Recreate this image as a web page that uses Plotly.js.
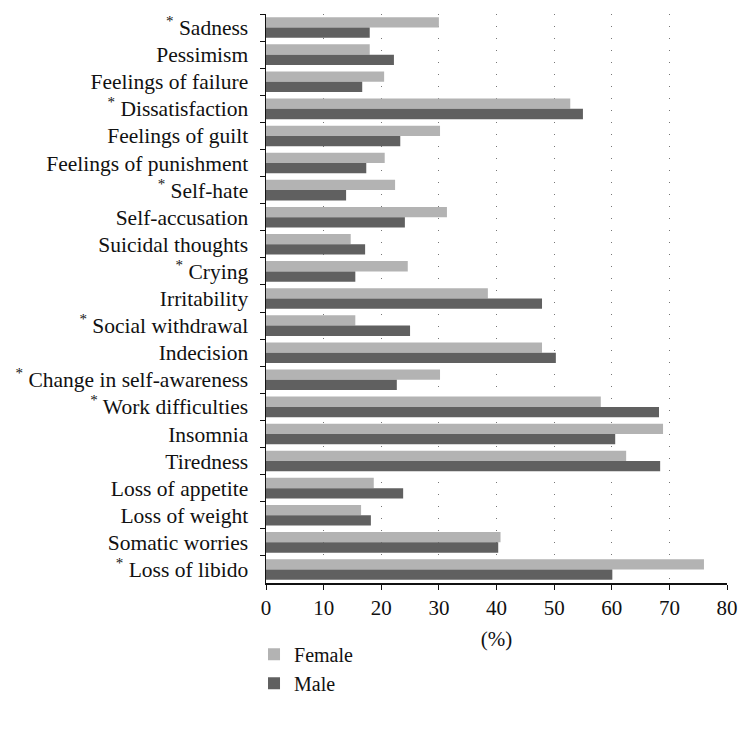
<!DOCTYPE html>
<html><head><meta charset="utf-8">
<script src="https://cdn.plot.ly/plotly-3.0.1.min.js"></script>
<style>body{margin:0;background:#fff}#c{width:751px;height:731px}</style>
</head><body><div id="c"></div>
<script>
const categories = ["<sup>*</sup> Sadness","Pessimism","Feelings of failure","<sup>*</sup> Dissatisfaction","Feelings of guilt","Feelings of punishment","<sup>*</sup> Self-hate","Self-accusation","Suicidal thoughts","<sup>*</sup> Crying","Irritability","<sup>*</sup> Social withdrawal","Indecision","<sup>*</sup> Change in self-awareness","<sup>*</sup> Work difficulties","Insomnia","Tiredness","Loss of appetite","Loss of weight","Somatic worries","<sup>*</sup> Loss of libido"];
const female = [30.0,18.0,20.5,52.8,30.2,20.6,22.4,31.4,14.7,24.6,38.5,15.5,47.9,30.2,58.1,68.9,62.5,18.7,16.5,40.7,76.0];
const male   = [18.0,22.2,16.7,55.0,23.3,17.4,13.9,24.1,17.2,15.5,47.9,25.0,50.3,22.7,68.2,60.6,68.4,23.8,18.2,40.3,60.1];
const xTicks = [0,10,20,30,40,50,60,70,80];

const font = "Liberation Serif, Times New Roman, serif";
const traces = [
  {type:"bar", orientation:"h", name:"Female", y:categories, x:female, marker:{color:"#b3b3b3"}},
  {type:"bar", orientation:"h", name:"Male", y:categories, x:male, marker:{color:"#606060"}}
];
const layout = {
  width:751, height:731,
  margin:{l:266, r:24, t:14, b:148},
  paper_bgcolor:"#fff", plot_bgcolor:"#fff",
  font:{family:font, size:21.5, color:"#111"},
  barmode:"group", bargap:0.24, bargroupgap:0,
  showlegend:true,
  legend:{x:-0.026, xanchor:"left", y:-0.091, yanchor:"top", font:{family:font, size:20, color:"#111"}, tracegroupgap:0, itemsizing:"constant"},
  xaxis:{range:[0,80], tickvals:xTicks, ticktext:xTicks.map(String), showgrid:true, gridcolor:"#777", griddash:"1px,11px", gridwidth:1,
    showline:true, linecolor:"#111", linewidth:1.5, ticks:"outside", ticklen:5, tickcolor:"#111", zeroline:false,
    tickfont:{family:font, size:21}, title:{text:"(%)", font:{family:font, size:21}, standoff:12}},
  yaxis:{type:"category", autorange:"reversed", showline:true, linecolor:"#111", linewidth:1.5, ticks:"outside", ticklen:5, tickcolor:"#111",
    tickson:"boundaries", showgrid:false, tickfont:{family:font, size:21.5}, ticklabelstandoff:12}
};
Plotly.newPlot("c", traces, layout, {displayModeBar:false, staticPlot:true});
</script></body></html>
